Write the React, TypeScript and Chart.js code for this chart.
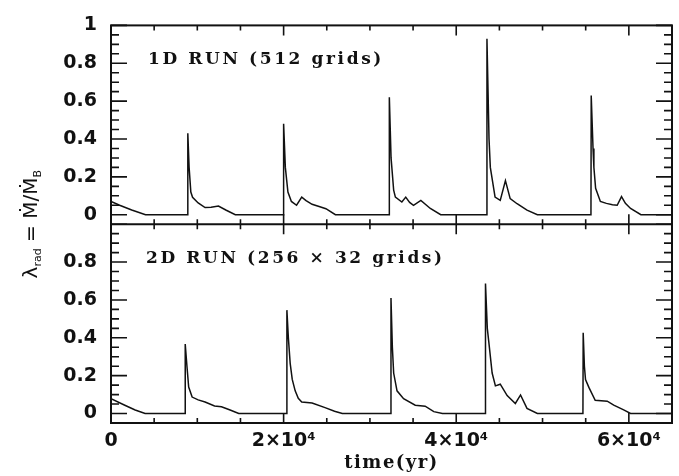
import React, { useEffect, useRef } from 'react';
import { Chart, registerables } from 'chart.js';

Chart.register(...registerables);

// ---- axis ticks / labels ----
const xTickValues = [0, 20000, 40000, 60000];
const xTickLabels = ['0', '2×10⁴', '4×10⁴', '6×10⁴'];
const yTickValues = [0, 0.2, 0.4, 0.6, 0.8, 1];
const yTickLabels = ['0', '0.2', '0.4', '0.6', '0.8', '1'];
const panelTitles = ['1D RUN (512 grids)', '2D RUN (256 × 32 grids)'];
const xTitle = 'time(yr)';

// ---- 1D run (512 grids) ----
const time1D = [
  0, 1000, 2400, 4000, 8880, 8900, 9050, 9250, 9450, 10100, 10900, 11600, 12450, 13300, 14400,
  19950, 20000, 20200, 20500, 20900, 21500, 22100, 22600, 23300, 24200, 24900, 26000,
  32220, 32250, 32450, 32750, 32950, 33700, 34150, 34600, 35050, 35900, 37000, 38200,
  43530, 43560, 43800, 43950, 44500, 45100, 45700, 46250, 47050, 48200, 49400,
  55610, 55640, 55850, 55950, 56150, 56700, 57400, 58100, 58650, 59150, 59600, 60200, 61400, 65000,
];
const lambda1D = [
  0.07, 0.05, 0.025, 0, 0, 0.43, 0.25, 0.12, 0.092, 0.062, 0.038, 0.04, 0.046, 0.025, 0,
  0, 0.48, 0.25, 0.12, 0.07, 0.05, 0.093, 0.075, 0.055, 0.042, 0.032, 0,
  0, 0.62, 0.3, 0.13, 0.093, 0.067, 0.093, 0.065, 0.05, 0.076, 0.033, 0,
  0, 0.93, 0.4, 0.25, 0.093, 0.076, 0.18, 0.085, 0.058, 0.024, 0,
  0, 0.63, 0.35, 0.25, 0.14, 0.07, 0.06, 0.053, 0.05, 0.096, 0.06, 0.033, 0, 0,
];

// ---- 2D run (256 x 32 grids) ----
const time2D = [
  0, 1600, 2800, 3950, 8580, 8600, 8800, 9000, 9400, 10100, 10900, 12000, 12800, 13800, 14800,
  20350, 20380, 20550, 20760, 21000, 21340, 21700, 22100, 23300, 24800, 25900, 26800,
  32410, 32440, 32600, 32750, 33140, 33900, 35250, 36400, 37400, 38400,
  43360, 43390, 43600, 43770, 44160, 44540, 45100, 45900, 46850, 47450, 48200, 49400,
  54680, 54710, 54850, 54980, 55370, 56100, 57500, 58250, 59400, 60200, 65000,
];
const lambda2D = [
  0.078, 0.044, 0.019, 0, 0, 0.367, 0.25, 0.14, 0.087, 0.072, 0.061, 0.04, 0.036, 0.019, 0,
  0, 0.546, 0.4, 0.265, 0.18, 0.12, 0.08, 0.061, 0.056, 0.031, 0.012, 0,
  0, 0.61, 0.35, 0.214, 0.12, 0.078, 0.044, 0.039, 0.01, 0,
  0, 0.687, 0.45, 0.38, 0.214, 0.146, 0.155, 0.095, 0.053, 0.098, 0.027, 0,
  0, 0.427, 0.25, 0.18, 0.138, 0.07, 0.065, 0.044, 0.019, 0, 0,
];

const INK = '#111';

function labelFor(values: number[], labels: string[], v: number): string {
  const i = values.findIndex((t) => Math.abs(t - v) < 1e-6);
  return i >= 0 ? labels[i] : '';
}

const decorPlugin = {
  id: 'decor',
  afterDraw(chart: any) {
    const { ctx, chartArea: a, scales } = chart;
    const xs = scales.x;
    const panels = [scales.yTop, scales.yBot];
    ctx.save();
    ctx.strokeStyle = INK;
    ctx.lineWidth = 1.6;
    ctx.beginPath();
    // y ticks (inward, both sides)
    for (const ys of panels) {
      for (let k = 0; k <= 20; k++) {
        const py = ys.getPixelForValue(k * 0.05);
        const len = k % 4 === 0 ? 16 : 8;
        ctx.moveTo(a.left, py);
        ctx.lineTo(a.left + len, py);
        ctx.moveTo(a.right, py);
        ctx.lineTo(a.right - len, py);
      }
    }
    // x ticks (inward, top and bottom of each panel)
    for (let k = 0; k * 5000 <= xs.max; k++) {
      const px = xs.getPixelForValue(k * 5000);
      const len = k % 4 === 0 ? 10 : 5;
      for (const ys of panels) {
        ctx.moveTo(px, ys.top);
        ctx.lineTo(px, ys.top + len);
        ctx.moveTo(px, ys.bottom);
        ctx.lineTo(px, ys.bottom - len);
      }
    }
    ctx.stroke();
    // frame
    ctx.lineWidth = 2;
    ctx.strokeRect(a.left, a.top, a.right - a.left, a.bottom - a.top);
    ctx.beginPath();
    ctx.moveTo(a.left, panels[0].bottom);
    ctx.lineTo(a.right, panels[0].bottom);
    ctx.stroke();

    // panel labels
    ctx.fillStyle = INK;
    ctx.font = 'bold 17px "DejaVu Serif"';
    ctx.textAlign = 'left';
    ctx.textBaseline = 'alphabetic';
    (ctx as any).letterSpacing = '2.6px';
    ctx.fillText(panelTitles[0], a.left + 37, panels[0].top + 39);
    ctx.fillText(panelTitles[1], a.left + 35, panels[1].top + 39);

    // x title
    ctx.font = 'bold 18px "DejaVu Serif"';
    (ctx as any).letterSpacing = '1.5px';
    ctx.textAlign = 'center';
    ctx.fillText(xTitle, (a.left + a.right) / 2, 468);

    // y title: λ_rad = Ṁ/Ṁ_B
    (ctx as any).letterSpacing = '0px';
    const parts = [
      { t: 'λ', sub: false },
      { t: 'rad', sub: true },
      { t: ' = ', sub: false },
      { t: 'Ṁ/Ṁ', sub: false },
      { t: 'B', sub: true },
    ];
    const big = '20px "DejaVu Sans"';
    const small = '11px "DejaVu Sans"';
    let total = 0;
    const widths = parts.map((p) => {
      ctx.font = p.sub ? small : big;
      const w = ctx.measureText(p.t).width;
      total += w;
      return w;
    });
    ctx.translate(29.5, (a.top + a.bottom) / 2);
    ctx.rotate(-Math.PI / 2);
    ctx.textAlign = 'left';
    let cx = -total / 2;
    parts.forEach((p, i) => {
      ctx.font = p.sub ? small : big;
      ctx.fillText(p.t, cx, p.sub ? 11 : 7);
      cx += widths[i];
    });
    ctx.restore();
  },
};

export default function App() {
  const canvasRef = useRef<HTMLCanvasElement | null>(null);

  useEffect(() => {
    if (!canvasRef.current) return;
    const tickFont = { family: '"DejaVu Sans"', size: 19, weight: 'bold' as const };
    const yCommon = {
      type: 'linear' as const,
      position: 'left' as const,
      stack: 'panels',
      stackWeight: 1,
      min: -0.05,
      max: 1,
      grid: { display: false, drawTicks: false },
      border: { display: false },
      afterBuildTicks: (s: any) => {
        s.ticks = yTickValues.map((v) => ({ value: v }));
      },
      afterFit: (s: any) => {
        s.width = 111;
      },
    };
    const chart = new Chart(canvasRef.current, {
      type: 'line',
      data: {
        datasets: [
          {
            label: '1D',
            data: time1D.map((t, i) => ({ x: t, y: lambda1D[i] })),
            xAxisID: 'x',
            yAxisID: 'yTop',
            borderColor: INK,
            borderWidth: 1.5,
            pointRadius: 0,
            tension: 0,
            fill: false,
          },
          {
            label: '2D',
            data: time2D.map((t, i) => ({ x: t, y: lambda2D[i] })),
            xAxisID: 'x',
            yAxisID: 'yBot',
            borderColor: INK,
            borderWidth: 1.5,
            pointRadius: 0,
            tension: 0,
            fill: false,
          },
        ],
      },
      options: {
        animation: false,
        responsive: false,
        devicePixelRatio: 1,
        events: [],
        layout: { padding: { top: 14, right: 7, left: 0, bottom: 0 } },
        plugins: { legend: { display: false }, tooltip: { enabled: false } },
        scales: {
          x: {
            type: 'linear',
            position: 'bottom',
            min: 0,
            max: 65000,
            grid: { display: false, drawTicks: false },
            border: { display: false },
            afterBuildTicks: (s: any) => {
              s.ticks = xTickValues.map((v) => ({ value: v }));
            },
            ticks: {
              maxRotation: 0,
              minRotation: 0,
              autoSkip: false,
              padding: 7,
              color: INK,
              font: tickFont,
              callback: (v: any) => labelFor(xTickValues, xTickLabels, Number(v)),
            },
            afterFit: (s: any) => {
              s.height = 53;
            },
          },
          yTop: {
            ...yCommon,
            weight: 1,
            ticks: {
              autoSkip: false,
              padding: 14,
              color: INK,
              font: tickFont,
              callback: (v: any) => labelFor(yTickValues, yTickLabels, Number(v)),
            },
          },
          yBot: {
            ...yCommon,
            weight: 0,
            ticks: {
              autoSkip: false,
              padding: 14,
              color: INK,
              font: tickFont,
              callback: (v: any) =>
                Math.abs(Number(v) - 1) < 1e-6 ? '' : labelFor(yTickValues, yTickLabels, Number(v)),
            },
          },
        } as any,
      },
      plugins: [decorPlugin],
    });
    return () => chart.destroy();
  }, []);

  return (
    <div style={{ position: 'fixed', left: 0, top: 0, width: 679, height: 476, background: '#fff' }}>
      <canvas ref={canvasRef} width={679} height={476} style={{ display: 'block' }} />
    </div>
  );
}
